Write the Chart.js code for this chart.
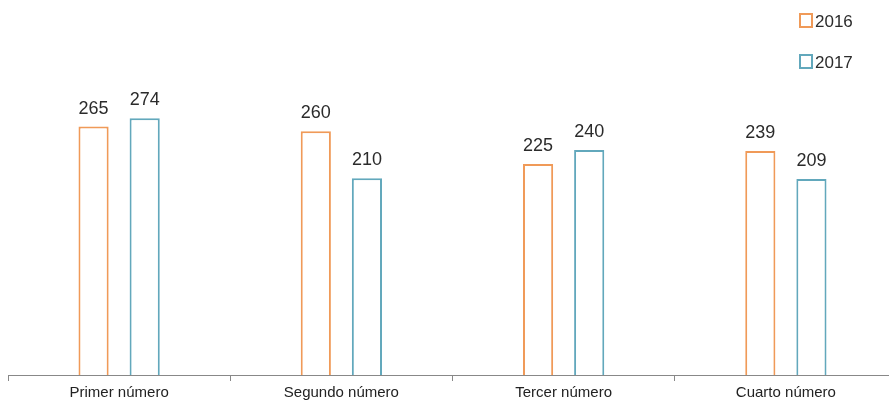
<!DOCTYPE html>
<html>
<head>
<meta charset="utf-8">
<script src="https://cdn.jsdelivr.net/npm/chart.js@4/dist/chart.umd.min.js"></script>
<style>
  html, body { margin: 0; padding: 0; background: #fff; overflow: hidden; }
  #wrap { width: 897px; height: 405px; position: relative; }
</style>
</head>
<body>
<div id="wrap"><canvas id="barCanvas"></canvas></div>
<script>
const categories = ['Primer número', 'Segundo número', 'Tercer número', 'Cuarto número'];
const seriesNames = ['2016', '2017'];
const values2016 = [265, 260, 225, 239];
const values2017 = [274, 210, 240, 209];

const orange = '#F09A58';
const blue = '#62A8BC';

// value labels above each bar
const valueLabelPlugin = {
  id: 'valueLabels',
  afterDatasetsDraw: (chart) => {
    const ctx = chart.ctx;
    ctx.save();
    ctx.font = '18px "Liberation Sans", Arial, sans-serif';
    ctx.fillStyle = '#2b2b2b';
    ctx.textAlign = 'center';
    ctx.textBaseline = 'bottom';
    chart.data.datasets.forEach((ds, i) => {
      chart.getDatasetMeta(i).data.forEach((bar, j) => {
        ctx.fillText(ds.data[j], bar.x, bar.y - 9);
      });
    });
    ctx.restore();
  }
};

// vertical legend in the top right corner
const sideLegendPlugin = {
  id: 'sideLegend',
  afterDraw: (chart) => {
    const ctx = chart.ctx;
    ctx.save();
    ctx.font = '17px "Liberation Sans", Arial, sans-serif';
    ctx.textBaseline = 'middle';
    chart.data.datasets.forEach((ds, i) => {
      const y = 21 + i * 41;
      ctx.strokeStyle = ds.borderColor;
      ctx.lineWidth = 2;
      ctx.strokeRect(800, y - 7, 12, 13);
      ctx.fillStyle = '#2b2b2b';
      ctx.fillText(ds.label, 815, y + 1);
    });
    ctx.restore();
  }
};

new Chart(document.getElementById('barCanvas').getContext('2d'), {
  type: 'bar',
  data: {
    labels: categories,
    datasets: [{
      label: seriesNames[0],
      data: values2016,
      backgroundColor: '#fff',
      borderColor: orange,
      borderWidth: 2,
      categoryPercentage: 0.46,
      barPercentage: 0.59
    }, {
      label: seriesNames[1],
      data: values2017,
      backgroundColor: '#fff',
      borderColor: blue,
      borderWidth: 2,
      categoryPercentage: 0.46,
      barPercentage: 0.59
    }]
  },
  options: {
    responsive: true,
    maintainAspectRatio: false,
    animation: false,
    layout: { padding: { left: 8, right: 0, top: 0, bottom: 0 } },
    scales: {
      x: {
        grid: {
          display: true,
          drawOnChartArea: false,
          tickLength: 6,
          color: '#888'
        },
        border: { display: true, color: '#888' },
        ticks: {
          color: '#222',
          padding: 3,
          font: { family: '"Liberation Sans", Arial, sans-serif', size: 15 }
        }
      },
      y: {
        display: false,
        min: 0,
        max: 400
      }
    },
    plugins: {
      legend: { display: false },
      tooltip: { enabled: false }
    }
  },
  plugins: [valueLabelPlugin, sideLegendPlugin]
});
</script>
</body>
</html>
